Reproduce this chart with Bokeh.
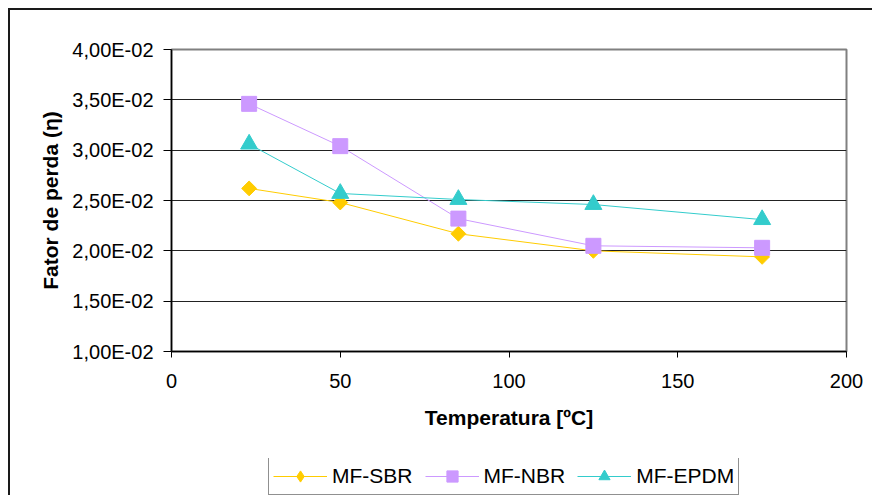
import math
from bokeh.plotting import figure
from bokeh.layouts import column
from bokeh.models import FixedTicker, Legend, LegendItem, Range1d
from bokeh.embed import file_html
from bokeh.resources import INLINE

# ---- data ----
temperature = [23, 50, 85, 125, 175]
mf_sbr = [0.0262, 0.0248, 0.0217, 0.0200, 0.0194]
mf_nbr = [0.0346, 0.0304, 0.0232, 0.0205, 0.0203]
mf_epdm = [0.0306, 0.0257, 0.0251, 0.0246, 0.0231]
series_names = ["MF-SBR", "MF-NBR", "MF-EPDM"]
x_ticks = [0, 50, 100, 150, 200]
y_ticks = [0.010, 0.015, 0.020, 0.025, 0.030, 0.035, 0.040]
y_tick_labels = ["1,00E-02", "1,50E-02", "2,00E-02", "2,50E-02",
                 "3,00E-02", "3,50E-02", "4,00E-02"]
x_title = "Temperatura [ºC]"
y_title = "Fator de perda (η)"

FONT = "Liberation Sans"
colors = ["#FFCC00", "#CC99FF", "#33CCCC"]
series = [mf_sbr, mf_nbr, mf_epdm]
markers = [("square", 10.5, math.pi / 4), ("square", 15, 0), ("triangle", 17, 0)]
legend_markers = ["diamond", "square", "triangle"]

# ---- main chart ----
p = figure(width=862, height=448, output_backend="svg", toolbar_location=None,
           x_range=Range1d(0, 200), y_range=Range1d(0.01, 0.04),
           min_border_left=161, min_border_right=26,
           min_border_top=39, min_border_bottom=107)

p.outline_line_color = "#808080"
p.outline_line_width = 2
p.background_fill_color = "white"
p.border_fill_color = "white"

p.xgrid.visible = False
p.ygrid.ticker = FixedTicker(ticks=y_ticks)
p.ygrid.grid_line_color = "#222222"
p.ygrid.grid_line_width = 1

p.xaxis.ticker = FixedTicker(ticks=x_ticks)
p.yaxis.ticker = FixedTicker(ticks=y_ticks)
p.yaxis.major_label_overrides = {t: l for t, l in zip(y_ticks, y_tick_labels)}
for ax in (p.xaxis[0], p.yaxis[0]):
    ax.axis_line_color = "black"
    ax.axis_line_width = 1.5
    ax.major_tick_line_color = "black"
    ax.major_tick_line_width = 1
    ax.major_tick_in = 0
    ax.minor_tick_line_color = None
    ax.major_label_text_font = FONT
    ax.major_label_text_font_size = "20px"
    ax.major_label_text_color = "black"
    ax.axis_label_text_font = FONT
    ax.axis_label_text_font_size = "21px"
    ax.axis_label_text_font_style = "bold"
    ax.axis_label_text_color = "black"
p.xaxis.major_tick_out = 6
p.yaxis.major_tick_out = 8
p.xaxis.major_label_standoff = 16
p.yaxis.major_label_standoff = 10
p.xaxis.axis_label = x_title
p.yaxis.axis_label = y_title
p.xaxis.axis_label_standoff = 15
p.yaxis.axis_label_standoff = 7

for name, vals, col, (mk, sz, ang) in zip(series_names, series, colors, markers):
    p.line(temperature, vals, line_color=col, line_width=1)
    p.scatter(temperature, vals, marker=mk, size=sz, angle=ang,
              fill_color=col, line_color=col, line_width=1)

# ---- legend strip (same series; glyphs lie outside this strip's ranges) ----
q = figure(width=862, height=37, output_backend="svg", toolbar_location=None,
           x_range=Range1d(0, 1), y_range=Range1d(1, 2),
           min_border_left=0, min_border_right=0,
           min_border_top=0, min_border_bottom=0)
q.axis.visible = False
q.grid.visible = False
q.outline_line_color = None
q.background_fill_color = "white"
q.border_fill_color = "white"

items = []
for name, vals, col, mk in zip(series_names, series, colors, legend_markers):
    ln = q.line(temperature, vals, line_color=col, line_width=1)
    sc = q.scatter(temperature, vals, marker=mk, size=12,
                   fill_color=col, line_color=col, line_width=1)
    items.append(LegendItem(label=name, renderers=[ln, sc]))

legend = Legend(items=items, orientation="horizontal", location=(97, 0),
                label_text_font=FONT, label_text_font_size="21px",
                label_text_color="black",
                glyph_width=54, glyph_height=28, label_standoff=5,
                spacing=12, padding=4, margin=0,
                border_line_color="#222222", border_line_width=1,
                background_fill_color="white", background_fill_alpha=1)
q.add_layout(legend, "center")

layout = column(p, q, spacing=0)
layout.styles = {"margin-left": "8px", "margin-top": "8px",
                 "border-left": "2px solid #1a1a1a", "border-top": "2px solid #1a1a1a"}

open("out.html", "w").write(file_html(layout, INLINE))
